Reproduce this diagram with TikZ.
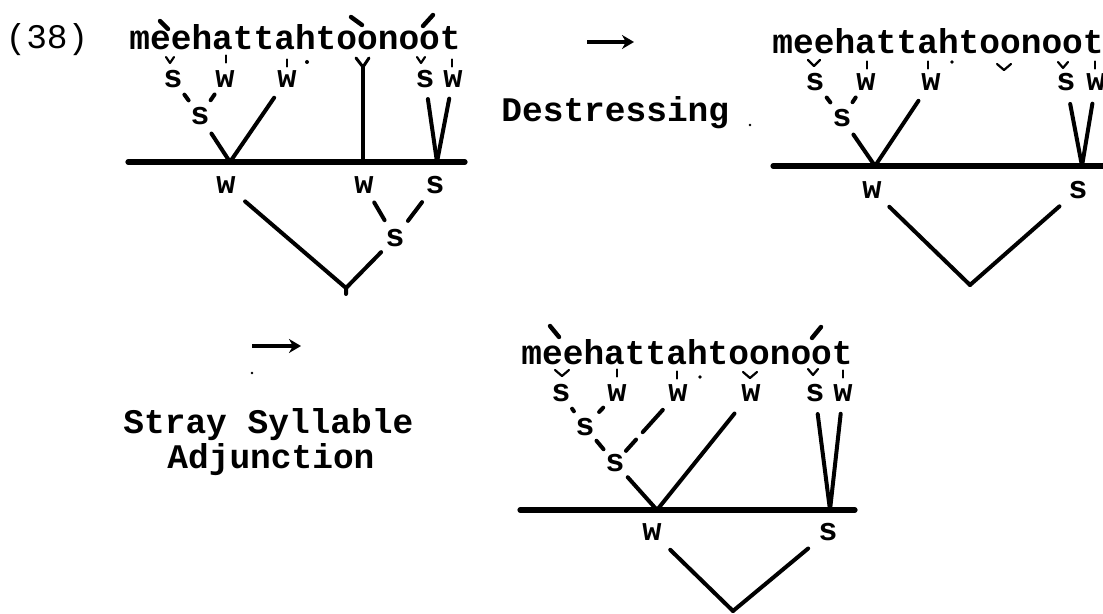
\documentclass[tikz,border=0pt]{standalone}
\usepackage{fontspec}
\newfontfamily\tw{Liberation Mono}
\usetikzlibrary{arrows.meta,calc}
\newcommand\mkV[3]{\draw[mk] (#1,#2) ++(-#3,-3) -- ++(#3,6) -- ++(#3,-6);}
\newcommand\mkT[2]{\draw[mk] (#1,#2) ++(0,-3.5) -- ++(0,7);}
\newcommand\mkD[3]{\fill (#1,#2) circle (#3pt);}
\tikzset{
 txt/.style={font={\tw\bfseries\fontsize{17.25pt}{20pt}\selectfont}, inner sep=0pt, anchor=base west},
 ctxt/.style={font={\tw\fontsize{17.25pt}{20pt}\selectfont}, inner sep=0pt, anchor=center},
 lab/.style={font={\tw\bfseries\fontsize{16pt}{18pt}\selectfont}, inner sep=0pt},
 br/.style={line width=2pt, line cap=round, line join=round},
 dsh/.style={line width=2pt, line cap=round, shorten <=4pt, shorten >=4pt},
 bar/.style={line width=2.6pt, line cap=round},
 mk/.style={line width=1.1pt, line cap=round, line join=round},
 acc/.style={line width=2.2pt, line cap=round},
 arr/.style={line width=1.8pt, -{Stealth[length=6pt,width=7pt]}},
}
\begin{document}
\begin{tikzpicture}[x=0.5pt,y=-0.5pt]
\useasboundingbox (0,0) rectangle (1103,614);
% ---------------- diagram 1 ----------------
\node[ctxt] (n38) at (47,40) {(38)};
\node[txt] (w1) at (129,50) {meehattahtoonoot};
\draw[acc] (160,21) -- (168,29);
\draw[acc] (351,17) -- (362,25);
\draw[acc] (433,15) -- (423,26);
\mkV{170}{60}{4} \mkT{226}{59} \mkT{287}{63} \mkD{307}{62}{1} \mkV{421}{60}{4} \mkT{452}{63}
\node[lab] (d1a1) at (173,79) {s};
\node[lab] (d1a2) at (225,79) {w};
\node[lab] (d1a3) at (287,79) {w};
\node[lab] (d1a4) at (425,79) {s};
\node[lab] (d1a5) at (453,79) {w};
\node[lab] (d1b) at (200,116) {s};
\coordinate (d1J) at (230,162);
\coordinate (d1V) at (437,162);
\coordinate (d1Y) at (363,67);
\coordinate (d1ya) at (356,58);
\coordinate (d1yb) at (369,58);
\coordinate (d1T) at (363,162);
\coordinate (d1L) at (128,162);
\coordinate (d1R) at (465,162);
\draw[dsh] (d1a1) -- (d1b);
\draw[dsh] (d1a2) -- (d1b);
\draw[br, shorten <=6pt] (d1a3) -- (d1J);
\draw[br, shorten <=5pt] (d1b) -- (d1J);
\draw[br, line width=1.5pt] (d1ya) -- (d1Y) -- (d1yb);
\draw[br] (d1Y) -- (d1T);
\draw[br, shorten <=5.5pt] (d1a4) -- (d1V);
\draw[br, shorten <=5.5pt] (d1a5) -- (d1V);
\draw[bar] (d1L) -- (d1R);
\node[lab] (d1c1) at (226,185) {w};
\node[lab] (d1c2) at (364,185) {w};
\node[lab] (d1c3) at (435,185) {s};
\node[lab] (d1d) at (395,238) {s};
\coordinate (d1B) at (346,288);
\coordinate (d1S) at (346,294);
\draw[br, shorten <=5pt, shorten >=5pt] (d1c2) -- (d1d);
\draw[br, shorten <=5pt, shorten >=5pt] (d1c3) -- (d1d);
\draw[br, shorten <=3.5pt] (d1d) -- (d1B);
\draw[br, shorten <=6pt] (d1c1) -- (d1B) -- (d1S);
% arrow + Destressing
\coordinate (ar1a) at (587,42);
\coordinate (ar1b) at (634,42);
\draw[arr] (ar1a) -- (ar1b);
\node[txt] (dst) at (501,122) {Destressing};
\mkD{750}{125}{0.7}
% ---------------- diagram 2 ----------------
\node[txt] (w2) at (772,54) {meehattahtoonoot};
\mkV{814}{63}{6} \mkT{867}{65} \mkT{928}{65} \mkD{952}{62}{0.9} \mkV{1004}{67}{7} \mkV{1063}{65}{5} \mkT{1095}{65}
\node[lab] (d2a1) at (815,82) {s};
\node[lab] (d2a2) at (866,82) {w};
\node[lab] (d2a3) at (931,82) {w};
\node[lab] (d2a4) at (1066,82) {s};
\node[lab] (d2a5) at (1096,82) {w};
\node[lab] (d2b) at (842,118) {s};
\coordinate (d2J) at (875,166);
\coordinate (d2V) at (1082,166);
\coordinate (d2L) at (773,166);
\coordinate (d2R) at (1103,166);
\draw[dsh] (d2a1) -- (d2b);
\draw[dsh] (d2a2) -- (d2b);
\draw[br, shorten <=6pt] (d2a3) -- (d2J);
\draw[br, shorten <=4.5pt] (d2b) -- (d2J);
\draw[br, shorten <=6.5pt] (d2a4) -- (d2V);
\draw[br, shorten <=6.5pt] (d2a5) -- (d2V);
\draw[bar] (d2L) -- (d2R);
\node[lab] (d2c1) at (872,190) {w};
\node[lab] (d2c2) at (1078,190) {s};
\coordinate (d2B) at (970,285);
\draw[br, shorten <=5.7pt] (d2c1) -- (d2B);
\draw[br, shorten <=5.7pt] (d2c2) -- (d2B);
% ---------------- diagram 3 ----------------
\coordinate (ar2a) at (252,346);
\coordinate (ar2b) at (301,346);
\draw[arr] (ar2a) -- (ar2b);
\mkD{252}{373}{0.7}
\node[txt] (ssa) at (123,434) {Stray Syllable};
\node[txt] (adj) at (167,468) {Adjunction};
\node[txt] (w3) at (521,365) {meehattahtoonoot};
\draw[acc] (550,326) -- (559,337);
\draw[acc] (821,327) -- (812,338);
\mkV{562}{373}{7} \mkT{617}{373} \mkT{677}{375} \mkD{700}{377}{0.9} \mkV{750}{375}{7} \mkV{813}{372}{5} \mkT{843}{374}
\node[lab] (d3a1) at (561,393) {s};
\node[lab] (d3a2) at (617,393) {w};
\node[lab] (d3a3) at (678,393) {w};
\node[lab] (d3a4) at (751,393) {w};
\node[lab] (d3a5) at (815,393) {s};
\node[lab] (d3a6) at (843,393) {w};
\node[lab] (d3b) at (585,427) {s};
\node[lab] (d3e) at (615,463) {s};
\coordinate (d3J) at (657,510);
\coordinate (d3V) at (830,510);
\coordinate (d3L) at (520,510);
\coordinate (d3R) at (855,510);
\draw[dsh] (d3a1) -- (d3b);
\draw[dsh] (d3a2) -- (d3b);
\draw[dsh, shorten <=3pt, shorten >=3pt] (d3b) -- (d3e);
\draw[br, shorten <=5.4pt, shorten >=2pt, dash pattern=on 15pt off 5pt on 40pt] (d3a3) -- (d3e);
\draw[br, shorten <=7.5pt] (d3a4) -- (d3J);
\draw[br, shorten <=3.4pt] (d3e) -- (d3J);
\draw[br, shorten <=6pt] (d3a5) -- (d3V);
\draw[br, shorten <=6pt] (d3a6) -- (d3V);
\draw[bar] (d3L) -- (d3R);
\node[lab] (d3c1) at (652,532) {w};
\node[lab] (d3c2) at (828,532) {s};
\coordinate (d3B) at (733,611);
\draw[br, shorten <=6.4pt] (d3c1) -- (d3B);
\draw[br, shorten <=6.4pt] (d3c2) -- (d3B);
\end{tikzpicture}
\end{document}
